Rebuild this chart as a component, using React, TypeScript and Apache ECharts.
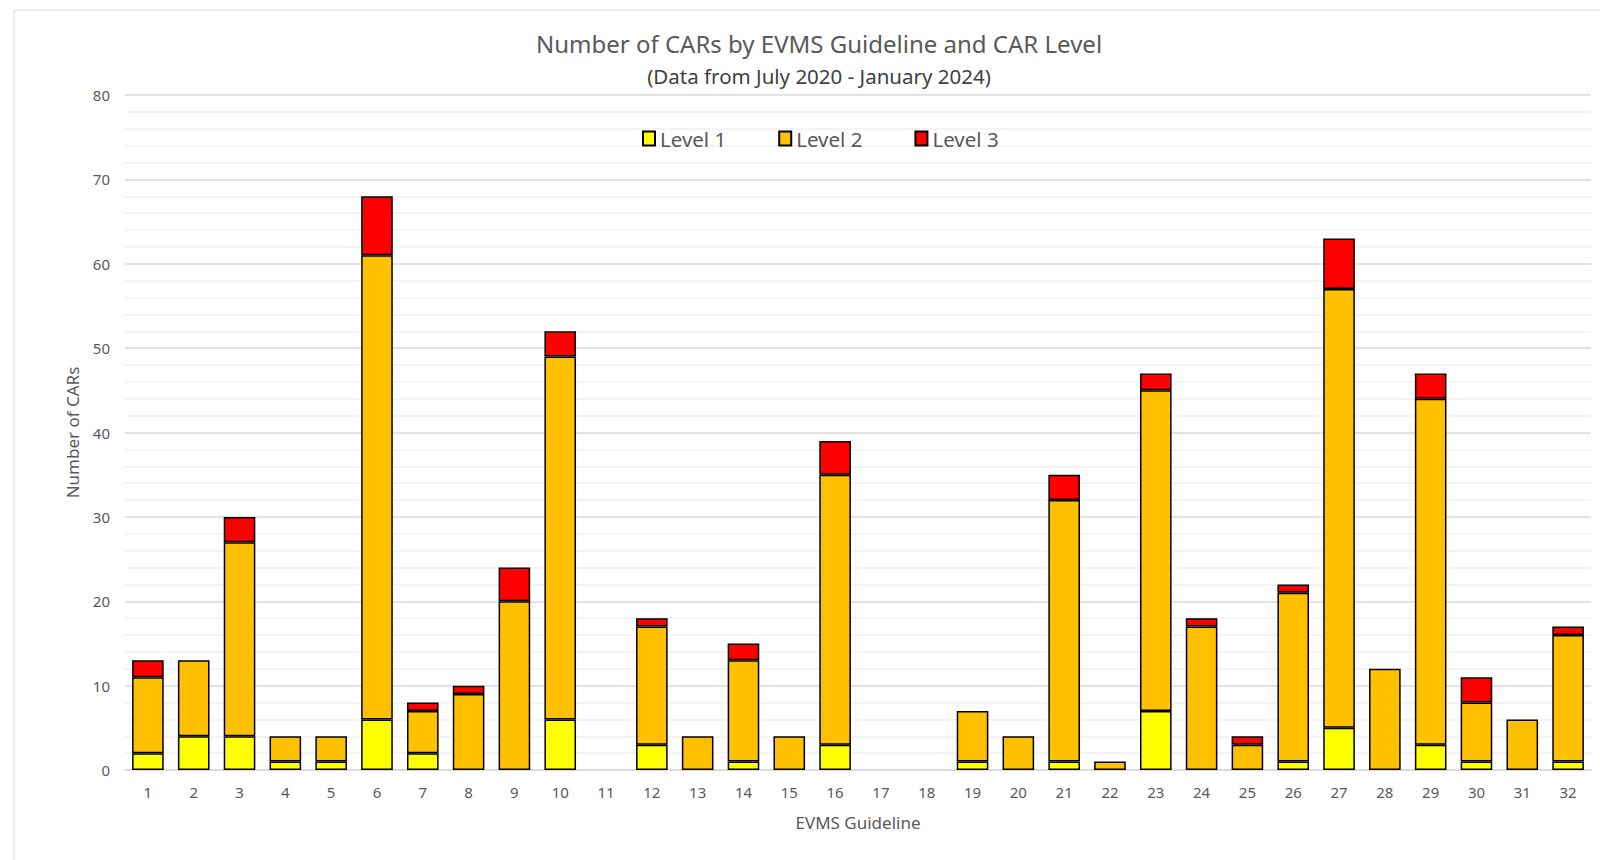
import React, { useEffect, useRef } from "react";
import * as echarts from "echarts";

const categories = ["1","2","3","4","5","6","7","8","9","10","11","12","13","14","15","16","17","18","19","20","21","22","23","24","25","26","27","28","29","30","31","32"];
const level1 = [2,4,4,1,1,6,2,0,0,6,0,3,0,1,0,3,0,0,1,0,1,0,7,0,0,1,5,0,3,1,0,1];
const level2 = [9,9,23,3,3,55,5,9,20,43,0,14,4,12,4,32,0,0,6,4,31,1,38,17,3,20,52,12,41,7,6,15];
const level3 = [2,0,3,0,0,7,1,1,4,3,0,1,0,2,0,4,0,0,0,0,3,0,2,1,1,1,6,0,3,3,0,1];
const yTicks = [0, 80, 10];

const FONT = "Noto Sans";
const TEXT = "#595959";

export default function App() {
  const ref = useRef<HTMLDivElement>(null);
  useEffect(() => {
    const chart = echarts.init(ref.current!, null, { renderer: "svg" });
    const mk = (name: string, data: number[], color: string) => ({
      name,
      type: "bar",
      stack: "total",
      data: data.map((v) => (v === 0 ? null : v)),
      barWidth: "69%",
      itemStyle: { color, borderColor: "#000", borderWidth: 1.5 },
    });
    chart.setOption({
      animation: false,
      backgroundColor: "#fff",
      textStyle: { fontFamily: FONT },
      title: {
        text: "Number of CARs by EVMS Guideline and CAR Level",
        subtext: "(Data from July 2020 - January 2024)",
        left: 814,
        textAlign: "center",
        top: 26,
        itemGap: 10,
        textStyle: { fontFamily: FONT, fontSize: 24, fontWeight: "normal", color: TEXT },
        subtextStyle: { fontFamily: FONT, fontSize: 20.5, color: "#404040" },
      },
      legend: {
        top: 123,
        left: 637,
        icon: "rect",
        itemWidth: 12,
        itemHeight: 14,
        itemGap: 52,
        textStyle: { fontFamily: FONT, fontSize: 20.5, color: TEXT },
        data: ["Level 1", "Level 2", "Level 3"],
      },
      graphic: [
        {
          type: "rect",
          shape: { x: 14, y: 10, width: 1700, height: 1000 },
          style: { fill: "none", stroke: "#d9d9d9", lineWidth: 1 },
          silent: true,
        },
      ],
      grid: { left: 125, right: 9, top: 95, bottom: 90, containLabel: false },
      xAxis: {
        type: "category",
        data: categories,
        name: "EVMS Guideline",
        nameLocation: "middle",
        nameGap: 44,
        nameTextStyle: { fontFamily: FONT, fontSize: 17, color: TEXT },
        axisLine: { lineStyle: { color: "#d9d9d9", width: 1.5 } },
        axisTick: { show: false },
        axisLabel: { fontFamily: FONT, fontSize: 15, color: TEXT, margin: 14 },
      },
      yAxis: {
        type: "value",
        min: yTicks[0],
        max: yTicks[1],
        interval: yTicks[2],
        name: "Number of CARs",
        nameLocation: "middle",
        nameGap: 44,
        nameRotate: 90,
        nameTextStyle: { fontFamily: FONT, fontSize: 17, color: TEXT },
        axisLine: { show: false },
        axisTick: { show: false },
        axisLabel: { fontFamily: FONT, fontSize: 15, color: TEXT, margin: 15 },
        splitLine: { lineStyle: { color: "#d9d9d9", width: 1.5 } },
        minorTick: { show: false, splitNumber: 5 },
        minorSplitLine: { show: true, lineStyle: { color: "#f0f0f0", width: 1.5 } },
      },
      series: [
        mk("Level 1", level1, "#ffff00"),
        mk("Level 2", level2, "#ffc000"),
        mk("Level 3", level3, "#ff0000"),
      ],
    });
    return () => chart.dispose();
  }, []);
  return (
    <div
      ref={ref}
      style={{ position: "fixed", left: 0, top: 0, width: 1600, height: 860, background: "#fff" }}
    />
  );
}
